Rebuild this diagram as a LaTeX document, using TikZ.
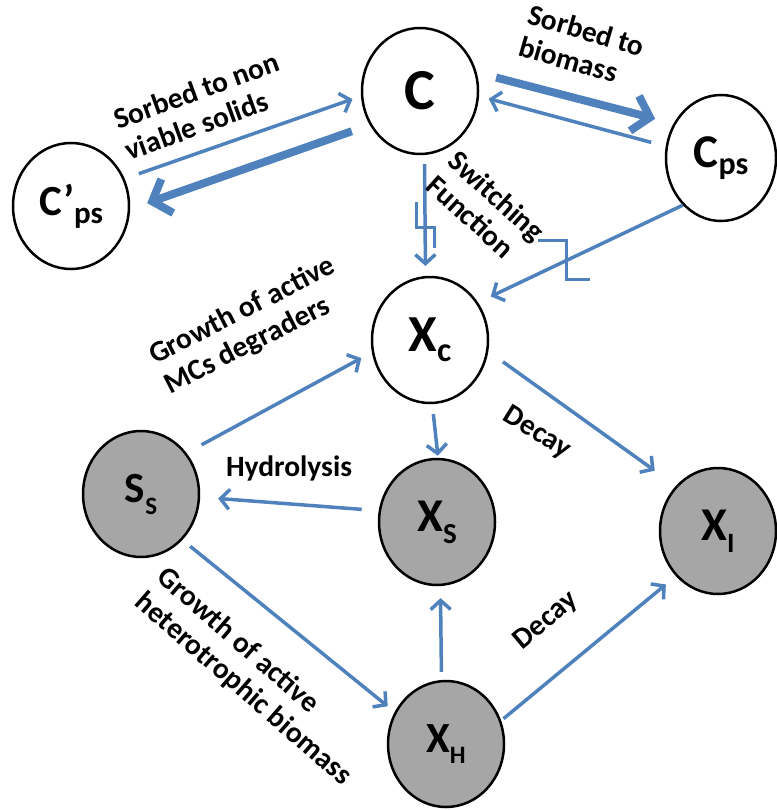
\documentclass[tikz,border=0pt]{standalone}
\usepackage{fontspec}
\setmainfont{Carlito}
\usetikzlibrary{arrows.meta,shapes.geometric}
\definecolor{flowblue}{RGB}{79,129,189}
\definecolor{poolgrey}{RGB}{166,166,166}
\newcommand{\poolname}[5]{{\fontsize{#1}{#1}\selectfont #3}\raisebox{-#5pt}{\fontsize{#2}{#2}\selectfont #4}}
\begin{document}
\begin{tikzpicture}[x=1pt,y=-1pt,font=\bfseries,
	pool/.style={draw,ellipse,line width=2.5pt,minimum width=116pt,minimum height=126pt,inner sep=0pt},
	grey pool/.style={pool,fill=poolgrey},
	flow/.style={draw=flowblue,line width=3.5pt,-{Straight Barb[length=9pt,width=20pt]}},
	bulk flow/.style={draw=flowblue,line width=8pt,-{Straight Barb[length=16pt,width=36pt]}},
	switch/.style={draw=flowblue,line width=3pt},
	note/.style={font=\bfseries\fontsize{29.5}{33}\selectfont,align=left,inner sep=0pt}]
	\useasboundingbox (0,0) rectangle (776,810);
	\node [pool] (c) at (420,91) {\poolname{58}{58}{C}{}{0}};
	\node [pool] (cpn) at (71,206) {\poolname{43}{31}{C’}{ps}{8}};
	\node [pool,minimum width=110pt] (cps) at (721,158) {\poolname{47}{32}{C}{ps}{7}};
	\node [pool] (xc) at (430,340) {\poolname{52}{34}{X}{c}{10}};
	\node [grey pool] (ss) at (141,494) {\poolname{43}{25}{S}{S}{12}};
	\node [grey pool] (xs) at (437,522) {\poolname{47}{29}{X}{S}{12}};
	\node [grey pool] (xi) at (718,531) {\poolname{47}{28}{X}{I}{12}};
	\node [grey pool] (xh) at (446,744) {\poolname{43}{25}{X}{H}{11}};

	\draw [flow,shorten <=15pt,shorten >=9pt] (cpn.27) -- (c.185);
	\draw [bulk flow,shorten <=19pt,shorten >=18pt] (c.214) -- (cpn.-3);
	\draw [bulk flow,shorten <=20pt,shorten >=19pt] (c.18) -- (cps.144);
	\draw [flow,shorten <=15pt,shorten >=10pt] (cps.168) -- (c.-5);
	\draw [flow,shorten <=9pt,shorten >=10pt] (c.-86) -- coordinate [pos=0.58] (sw1) (xc.94);
	\draw [flow,shorten <=0pt,shorten >=14pt] (cps.231) -- coordinate [pos=0.57] (sw2) (xc.38);
	\draw [flow,shorten <=17pt,shorten >=12pt] (ss.42) -- (xc.192);
	\draw [flow,shorten <=17pt,shorten >=18pt] (xs.169) -- (ss.-3);
	\draw [flow,shorten <=10pt,shorten >=2pt] (xc.-88) -- (xs.89);
	\draw [flow,shorten <=18pt,shorten >=26pt] (xc.-11) -- (xi.133);
	\draw [flow,shorten <=10pt,shorten >=9pt] (ss.-48) -- (xh.148);
	\draw [flow,shorten <=8pt,shorten >=12pt] (xh.94) -- (xs.-87);
	\draw [flow,shorten <=3pt,shorten >=13pt] (xh.23) -- (xi.227);

	\draw [switch] ([shift={(-9,-23)}]sw1) -- ++(0,25) -- ++(18,0) -- ++(0,21);
	\draw [switch] ([shift={(-28,-20)}]sw2) -- ++(28,0) -- ++(0,39) -- ++(24,0);

	\node [note,rotate=20] (nonviable) at (202,106) {Sorbed to non\\viable solids};
	\node [note,rotate=-16] (biomass) at (582,46) {Sorbed to\\biomass};
	\node [note,rotate=-42] (switching) at (486,208) {Switching\\Function};
	\node [note,rotate=27] (mcgrowth) at (250,326) {Growth of active\\MCs degraders};
	\node [note] (hydrolysis) at (289,468) {Hydrolysis};
	\node [note,rotate=-32] (decaya) at (537,433) {Decay};
	\node [note,rotate=40] (decayb) at (546,621) {Decay};
	\node [note,rotate=-41] (hetgrowth) at (254,677) {Growth of active\\heterotrophic biomass};
\end{tikzpicture}
\end{document}
